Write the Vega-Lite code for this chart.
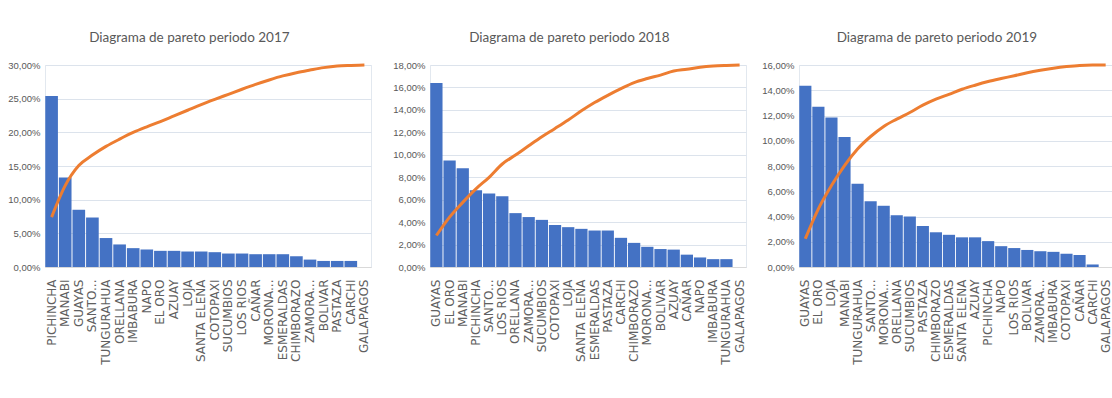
{
  "$schema": "https://vega.github.io/schema/vega-lite/v6.json",
  "padding": {"left": 7, "top": 30, "right": 0, "bottom": 0},
  "background": "white",
  "spacing": 14,
  "config": {
    "view": {"stroke": "#e2e8ef"},
    "title": {"font": "Lato", "fontSize": 13.5, "fontWeight": "normal", "color": "#595959", "offset": 15, "anchor": "middle", "frame": "bounds"},
    "axis": {"labelColor": "#595959", "ticks": false, "titleColor": "#595959"},
    "axisX": {"labelFont": "DejaVu Sans", "labelFontSize": 12, "labelColor": "#606060", "labelAngle": -90, "labelPadding": 12, "domainColor": "#d9d9d9", "title": null, "labelLimit": 200},
    "axisY": {"labelFont": "Liberation Sans", "labelFontSize": 9.5, "gridColor": "#dce3ec", "domain": false, "labelPadding": 5, "title": null},
    "scale": {"bandPaddingInner": 0.07, "bandPaddingOuter": 0.02}
  },
  "datasets": {
    "pareto": [
      {"anio": "2017", "rank": 1, "provincia": "PICHINCHA", "pct": 25.4, "acum": 24.7},
      {"anio": "2017", "rank": 2, "provincia": "MANABI", "pct": 13.3, "acum": 40.3},
      {"anio": "2017", "rank": 3, "provincia": "GUAYAS", "pct": 8.5, "acum": 50.2},
      {"anio": "2017", "rank": 4, "provincia": "SANTO...", "pct": 7.35, "acum": 55.4},
      {"anio": "2017", "rank": 5, "provincia": "TUNGURAHUA", "pct": 4.3, "acum": 59.7},
      {"anio": "2017", "rank": 6, "provincia": "ORELLANA", "pct": 3.35, "acum": 63.3},
      {"anio": "2017", "rank": 7, "provincia": "IMBABURA", "pct": 2.8, "acum": 66.6},
      {"anio": "2017", "rank": 8, "provincia": "NAPO", "pct": 2.6, "acum": 69.4},
      {"anio": "2017", "rank": 9, "provincia": "EL ORO", "pct": 2.4, "acum": 72.0},
      {"anio": "2017", "rank": 10, "provincia": "AZUAY", "pct": 2.4, "acum": 74.8},
      {"anio": "2017", "rank": 11, "provincia": "LOJA", "pct": 2.3, "acum": 77.6},
      {"anio": "2017", "rank": 12, "provincia": "SANTA ELENA", "pct": 2.3, "acum": 80.4},
      {"anio": "2017", "rank": 13, "provincia": "COTOPAXI", "pct": 2.2, "acum": 83.0},
      {"anio": "2017", "rank": 14, "provincia": "SUCUMBIOS", "pct": 2.0, "acum": 85.5},
      {"anio": "2017", "rank": 15, "provincia": "LOS RIOS", "pct": 2.0, "acum": 88.0},
      {"anio": "2017", "rank": 16, "provincia": "CAÑAR", "pct": 1.9, "acum": 90.4},
      {"anio": "2017", "rank": 17, "provincia": "MORONA...", "pct": 1.9, "acum": 92.6},
      {"anio": "2017", "rank": 18, "provincia": "ESMERALDAS", "pct": 1.9, "acum": 94.6},
      {"anio": "2017", "rank": 19, "provincia": "CHIMBORAZO", "pct": 1.6, "acum": 96.2},
      {"anio": "2017", "rank": 20, "provincia": "ZAMORA...", "pct": 1.1, "acum": 97.5},
      {"anio": "2017", "rank": 21, "provincia": "BOLIVAR", "pct": 0.9, "acum": 98.7},
      {"anio": "2017", "rank": 22, "provincia": "PASTAZA", "pct": 0.9, "acum": 99.5},
      {"anio": "2017", "rank": 23, "provincia": "CARCHI", "pct": 0.9, "acum": 99.8},
      {"anio": "2017", "rank": 24, "provincia": "GALAPAGOS", "pct": 0, "acum": 100},

      {"anio": "2018", "rank": 1, "provincia": "GUAYAS", "pct": 16.4, "acum": 15.6},
      {"anio": "2018", "rank": 2, "provincia": "EL ORO", "pct": 9.5, "acum": 24.7},
      {"anio": "2018", "rank": 3, "provincia": "MANABI", "pct": 8.8, "acum": 32.0},
      {"anio": "2018", "rank": 4, "provincia": "PICHINCHA", "pct": 6.85, "acum": 38.7},
      {"anio": "2018", "rank": 5, "provincia": "SANTO...", "pct": 6.55, "acum": 44.4},
      {"anio": "2018", "rank": 6, "provincia": "LOS RIOS", "pct": 6.3, "acum": 51.0},
      {"anio": "2018", "rank": 7, "provincia": "ORELLANA", "pct": 4.8, "acum": 55.4},
      {"anio": "2018", "rank": 8, "provincia": "ZAMORA...", "pct": 4.45, "acum": 60.0},
      {"anio": "2018", "rank": 9, "provincia": "SUCUMBIOS", "pct": 4.2, "acum": 64.5},
      {"anio": "2018", "rank": 10, "provincia": "COTOPAXI", "pct": 3.75, "acum": 68.6},
      {"anio": "2018", "rank": 11, "provincia": "LOJA", "pct": 3.55, "acum": 72.8},
      {"anio": "2018", "rank": 12, "provincia": "SANTA ELENA", "pct": 3.4, "acum": 77.3},
      {"anio": "2018", "rank": 13, "provincia": "ESMERALDAS", "pct": 3.25, "acum": 81.4},
      {"anio": "2018", "rank": 14, "provincia": "PASTAZA", "pct": 3.25, "acum": 85.0},
      {"anio": "2018", "rank": 15, "provincia": "CARCHI", "pct": 2.6, "acum": 88.3},
      {"anio": "2018", "rank": 16, "provincia": "CHIMBORAZO", "pct": 2.15, "acum": 91.3},
      {"anio": "2018", "rank": 17, "provincia": "MORONA...", "pct": 1.8, "acum": 93.3},
      {"anio": "2018", "rank": 18, "provincia": "BOLIVAR", "pct": 1.6, "acum": 95.0},
      {"anio": "2018", "rank": 19, "provincia": "AZUAY", "pct": 1.55, "acum": 97.0},
      {"anio": "2018", "rank": 20, "provincia": "CAÑAR", "pct": 1.1, "acum": 97.9},
      {"anio": "2018", "rank": 21, "provincia": "NAPO", "pct": 0.85, "acum": 98.9},
      {"anio": "2018", "rank": 22, "provincia": "IMBABURA", "pct": 0.7, "acum": 99.5},
      {"anio": "2018", "rank": 23, "provincia": "TUNGURAHUA", "pct": 0.7, "acum": 99.8},
      {"anio": "2018", "rank": 24, "provincia": "GALAPAGOS", "pct": 0, "acum": 100},

      {"anio": "2019", "rank": 1, "provincia": "GUAYAS", "pct": 14.35, "acum": 14.0},
      {"anio": "2019", "rank": 2, "provincia": "EL ORO", "pct": 12.7, "acum": 28.8},
      {"anio": "2019", "rank": 3, "provincia": "LOJA", "pct": 11.85, "acum": 40.3},
      {"anio": "2019", "rank": 4, "provincia": "MANABI", "pct": 10.3, "acum": 50.2},
      {"anio": "2019", "rank": 5, "provincia": "TUNGURAHUA", "pct": 6.6, "acum": 58.4},
      {"anio": "2019", "rank": 6, "provincia": "SANTO...", "pct": 5.2, "acum": 64.6},
      {"anio": "2019", "rank": 7, "provincia": "MORONA...", "pct": 4.85, "acum": 69.6},
      {"anio": "2019", "rank": 8, "provincia": "ORELLANA", "pct": 4.1, "acum": 73.2},
      {"anio": "2019", "rank": 9, "provincia": "SUCUMBIOS", "pct": 4.0, "acum": 76.5},
      {"anio": "2019", "rank": 10, "provincia": "PASTAZA", "pct": 3.25, "acum": 80.1},
      {"anio": "2019", "rank": 11, "provincia": "CHIMBORAZO", "pct": 2.75, "acum": 83.1},
      {"anio": "2019", "rank": 12, "provincia": "ESMERALDAS", "pct": 2.55, "acum": 85.5},
      {"anio": "2019", "rank": 13, "provincia": "SANTA ELENA", "pct": 2.35, "acum": 88.0},
      {"anio": "2019", "rank": 14, "provincia": "AZUAY", "pct": 2.35, "acum": 90.0},
      {"anio": "2019", "rank": 15, "provincia": "PICHINCHA", "pct": 2.05, "acum": 91.8},
      {"anio": "2019", "rank": 16, "provincia": "NAPO", "pct": 1.65, "acum": 93.3},
      {"anio": "2019", "rank": 17, "provincia": "LOS RIOS", "pct": 1.5, "acum": 94.7},
      {"anio": "2019", "rank": 18, "provincia": "BOLIVAR", "pct": 1.35, "acum": 96.2},
      {"anio": "2019", "rank": 19, "provincia": "ZAMORA...", "pct": 1.25, "acum": 97.4},
      {"anio": "2019", "rank": 20, "provincia": "IMBABURA", "pct": 1.2, "acum": 98.4},
      {"anio": "2019", "rank": 21, "provincia": "COTOPAXI", "pct": 1.05, "acum": 99.2},
      {"anio": "2019", "rank": 22, "provincia": "CAÑAR", "pct": 0.95, "acum": 99.8},
      {"anio": "2019", "rank": 23, "provincia": "CARCHI", "pct": 0.2, "acum": 100},
      {"anio": "2019", "rank": 24, "provincia": "GALAPAGOS", "pct": 0, "acum": 100}
    ]
  },
  "data": {"name": "pareto"},
  "hconcat": [
    {
      "spacing": 20,
      "hconcat": [
        {
          "width": 326, "height": 202,
          "title": "Diagrama de pareto periodo 2017",
          "transform": [{"filter": "datum.anio == '2017'"}],
          "encoding": {"x": {"field": "provincia", "type": "nominal", "sort": {"field": "rank", "op": "min"}}},
          "layer": [
            {"mark": {"type": "bar", "color": "#4472C4"},
             "encoding": {"y": {"field": "pct", "type": "quantitative", "scale": {"domain": [0, 30]},
               "axis": {"values": [0, 5, 10, 15, 20, 25, 30], "labelExpr": "replace(format(datum.value, '.2f'), '.', ',') + '%'"}}}},
            {"mark": {"type": "line", "color": "#ED7D31", "strokeWidth": 3, "interpolate": "monotone"},
             "encoding": {"y": {"field": "acum", "type": "quantitative", "scale": {"domain": [0, 100]}, "axis": null}}}
          ],
          "resolve": {"scale": {"y": "independent"}}
        },
        {
          "width": 316, "height": 202,
          "title": "Diagrama de pareto periodo 2018",
          "transform": [{"filter": "datum.anio == '2018'"}],
          "encoding": {"x": {"field": "provincia", "type": "nominal", "sort": {"field": "rank", "op": "min"}}},
          "layer": [
            {"mark": {"type": "bar", "color": "#4472C4"},
             "encoding": {"y": {"field": "pct", "type": "quantitative", "scale": {"domain": [0, 18]},
               "axis": {"values": [0, 2, 4, 6, 8, 10, 12, 14, 16, 18], "labelExpr": "replace(format(datum.value, '.2f'), '.', ',') + '%'"}}}},
            {"mark": {"type": "line", "color": "#ED7D31", "strokeWidth": 3, "interpolate": "monotone"},
             "encoding": {"y": {"field": "acum", "type": "quantitative", "scale": {"domain": [0, 100]}, "axis": null}}}
          ],
          "resolve": {"scale": {"y": "independent"}}
        }
      ]
    },
    {
      "width": 313, "height": 202,
      "title": "Diagrama de pareto periodo 2019",
      "transform": [{"filter": "datum.anio == '2019'"}],
      "encoding": {"x": {"field": "provincia", "type": "nominal", "sort": {"field": "rank", "op": "min"}}},
      "layer": [
        {"mark": {"type": "bar", "color": "#4472C4"},
         "encoding": {"y": {"field": "pct", "type": "quantitative", "scale": {"domain": [0, 16]},
           "axis": {"values": [0, 2, 4, 6, 8, 10, 12, 14, 16], "labelExpr": "replace(format(datum.value, '.2f'), '.', ',') + '%'"}}}},
        {"mark": {"type": "line", "color": "#ED7D31", "strokeWidth": 3, "interpolate": "monotone"},
         "encoding": {"y": {"field": "acum", "type": "quantitative", "scale": {"domain": [0, 100]}, "axis": null}}}
      ],
      "resolve": {"scale": {"y": "independent"}}
    }
  ]
}
